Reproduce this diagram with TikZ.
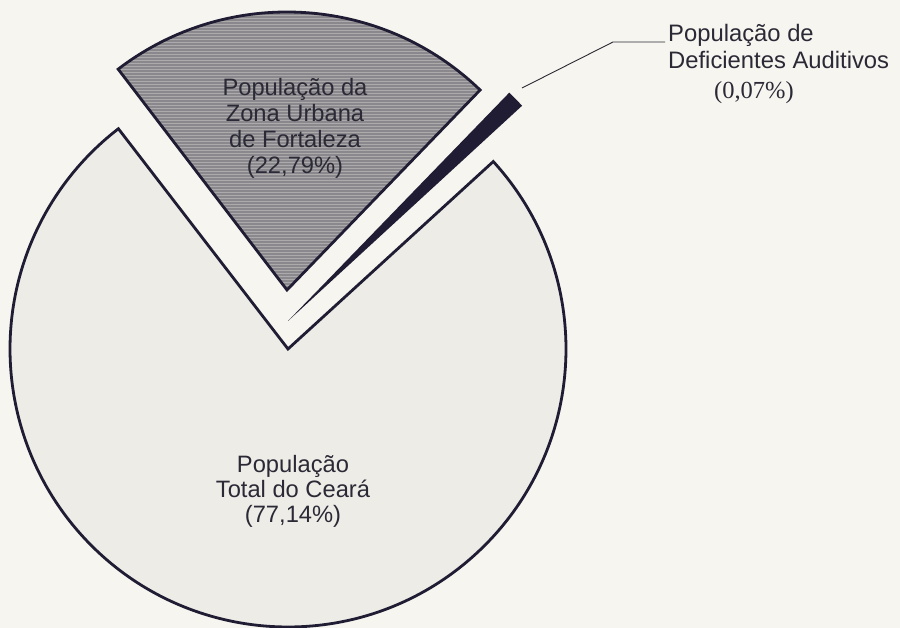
\documentclass[tikz,border=0pt]{standalone}
\usepackage{fontspec}
\setmainfont{Liberation Sans}
\newfontfamily\serifnum{Liberation Serif}
\usepackage{tikz}
\usetikzlibrary{patterns}

\definecolor{paper}{HTML}{F7F5F0}
\definecolor{ink}{HTML}{1F1C33}
\definecolor{txt}{HTML}{2A2935}
\definecolor{light}{HTML}{EEECE7}
\definecolor{shade}{HTML}{8A888C}
\definecolor{hatch}{HTML}{ACAAAA}

\begin{document}
\begin{tikzpicture}[x=1pt, y=1pt,
    slice/.style={draw=ink, line width=2.8pt, line join=miter},
    slicetext/.style={align=center, inner sep=0pt, text=txt},
  ]
    \fill[paper] (0, 0) rectangle (900, 628);
    \useasboundingbox (0, 0) rectangle (900, 628);
    \coordinate (ctotal) at (288, 279);
    \coordinate (curban) at (287, 338);
    \coordinate (caudit) at (288, 307);
    \draw[slice, fill=light] (ctotal) -- ++(42.4:278) arc[start angle=42.4, end angle=-232.4, radius=278] -- cycle;
    \draw[slice, preaction={fill=shade}, pattern=horizontal lines, pattern color=hatch] (curban) -- ++(46:278) arc[start angle=46, end angle=127.4, radius=278] -- cycle;
    \fill[ink] (caudit) -- ++(42.6:318) arc[start angle=42.6, end angle=45.9, radius=318] -- cycle;
    \node[slicetext, font=\fontsize{23.7}{26}\selectfont] (urban) at (295, 500) {População da\\Zona Urbana\\de Fortaleza\\(22,79\%)};
    \node[slicetext, font=\fontsize{23.7}{25}\selectfont] (total) at (293, 137) {População\\Total do Ceará\\(77,14\%)};
    \node[slicetext, anchor=north west, align=left, font=\fontsize{23.8}{26.5}\selectfont] (audit) at (668, 603.5) {População de\\Deficientes Auditivos};
    \node[slicetext, anchor=base, font=\serifnum\fontsize{24.5}{26}\selectfont] (pct) at (754, 529) {(0,07\%)};
    \coordinate (lead) at (522, 540);
    \coordinate (kink) at (613, 586);
    \draw[txt, line width=0.9pt] (lead) -- (kink) -- ([xshift=-3pt]audit.west |- kink);
\end{tikzpicture}
\end{document}
